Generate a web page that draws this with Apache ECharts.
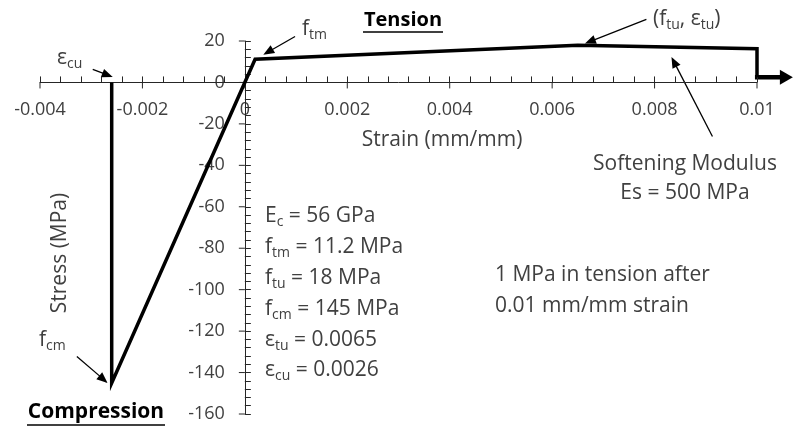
<!DOCTYPE html>
<html><head><meta charset="utf-8">
<script src="https://cdn.jsdelivr.net/npm/echarts@6/dist/echarts.min.js"></script>
<style>html,body{margin:0;padding:0;background:#fff}#c{width:794px;height:433px}</style>
</head><body><div id="c"></div>
<script>
// Stress–strain law (strain in mm/mm, stress in MPa)
const strain = [-0.0026, -0.0026, 0.0002, 0.0065, 0.01, 0.01];
const stress = [0, -145, 11.2, 18, 16.25, 2.5];
// residual tension arrow beyond 0.01 strain
const residualStrain = [0.01, 0.0107];
const residualStress = [2.5, 2.5];
const xTickValues = [-0.004, -0.002, 0, 0.002, 0.004, 0.006, 0.008, 0.01];
const xTickLabels = ['-0.004', '-0.002', '0', '0.002', '0.004', '0.006', '0.008', '0.01'];
const yTickValues = [-160, -140, -120, -100, -80, -60, -40, -20, 0, 20];
const yTickLabels = ['-160', '-140', '-120', '-100', '-80', '-60', '-40', '-20', '0', '20'];
// annotation arrows in data coordinates (tail -> head)
const annotationArrows = [
  [[-0.00297, 6.3], [-0.00258, 2.6]],
  [[0.00098, 22.2], [0.00036, 13.4]],
  [[0.00784, 30.4], [0.00664, 18.8]],
  [[0.00913, -26.1], [0.00833, 12.3]],
  [[-0.00328, -132.2], [-0.00268, -145.0]]
];

const FONT = '"Open Sans", sans-serif';
const TXT = '#404040';
const AX = '#262626';

const chart = echarts.init(document.getElementById('c'), null, {renderer: 'canvas'});
const option = {
  animation: false,
  backgroundColor: '#fff',
  grid: {left: 40, right: 37, top: 41, bottom: 19, containLabel: false, outerBoundsMode: 'none'},
  xAxis: {
    type: 'value', min: -0.004, max: 0.01, interval: 0.002, splitLine: {show: false},
    axisLine: {onZero: true, lineStyle: {color: AX, width: 1}},
    axisTick: {show: true, inside: true, length: 6, lineStyle: {color: AX}},
    minorTick: {show: true, splitNumber: 5, length: 6, lineStyle: {color: AX}},
    axisLabel: {show: false}
  },
  yAxis: {
    type: 'value', min: -160, max: 20, interval: 20, splitLine: {show: false},
    axisLine: {onZero: true, lineStyle: {color: AX, width: 1}},
    axisTick: {show: true, inside: true, length: 6, lineStyle: {color: AX}},
    minorTick: {show: true, splitNumber: 5, length: 6, lineStyle: {color: AX}},
    axisLabel: {show: false}
  },
  series: [{
    type: 'line',
    data: strain.map((s, i) => [s, stress[i]]),
    showSymbol: false,
    symbol: 'none',
    clip: false,
    lineStyle: {color: '#000', width: 3.5, join: 'miter'}
  }]
};
chart.setOption(option);

function px(p) { return chart.convertToPixel({seriesIndex: 0}, p); }
const g = [];
// outer halves of the crossing major ticks + tick labels next to the zero-crossing axes
xTickValues.forEach((v, i) => { const p = px([v, 0]);
  g.push({type: 'line', silent: true, shape: {x1: p[0], y1: p[1], x2: p[0], y2: p[1] + 6}, style: {stroke: AX, lineWidth: 1}});
  g.push({type: 'text', silent: true, x: p[0], y: p[1] + 27, style: {text: xTickLabels[i], fill: TXT, font: '18px ' + FONT, textAlign: 'center', textVerticalAlign: 'middle'}});
});
yTickValues.forEach((v, i) => { const p = px([0, v]);
  g.push({type: 'line', silent: true, shape: {x1: p[0], y1: p[1], x2: p[0] - 6, y2: p[1]}, style: {stroke: AX, lineWidth: 1}});
  g.push({type: 'text', silent: true, x: p[0] - 20, y: p[1], style: {text: yTickLabels[i], fill: TXT, font: '18px ' + FONT, textAlign: 'right', textVerticalAlign: 'middle'}});
});

function arrow(from, to, width, headLen, headW) {
  const a = px(from), b = px(to);
  const dx = b[0] - a[0], dy = b[1] - a[1], L = Math.hypot(dx, dy), ux = dx / L, uy = dy / L;
  const base = [b[0] - ux * headLen, b[1] - uy * headLen];
  g.push({type: 'line', silent: true, shape: {x1: a[0], y1: a[1], x2: base[0] + ux, y2: base[1] + uy},
    style: {stroke: '#000', lineWidth: width}});
  g.push({type: 'polygon', silent: true, shape: {points: [b,
      [base[0] - uy * headW / 2, base[1] + ux * headW / 2],
      [base[0] + uy * headW / 2, base[1] - ux * headW / 2]]},
    style: {fill: '#000'}});
}
annotationArrows.forEach(a => arrow(a[0], a[1], 1.3, 11, 9));
arrow([residualStrain[0] - 0.00004, residualStress[0]], [residualStrain[1], residualStress[1]], 4.5, 13, 15);

const rich = {
  a: {fontFamily: FONT, fontSize: 21, lineHeight: 26, color: TXT},
  s: {fontFamily: FONT, fontSize: 14, lineHeight: 9, verticalAlign: 'bottom', color: TXT}
};
function txt(text, x, y, opts) {
  opts = opts || {};
  g.push({type: 'text', silent: true, x: x, y: y,
    style: {text: text, rich: rich, fill: TXT, font: '21px ' + FONT,
      textAlign: opts.align || 'left', textVerticalAlign: 'middle'}});
}
function underline(x1, x2, y) {
  g.push({type: 'line', silent: true, shape: {x1: x1, y1: y, x2: x2, y2: y}, style: {stroke: '#000', lineWidth: 1.3}});
}
// labels
txt('{a|ε}{s|cu}', 57, 58);
txt('{a|f}{s|tm}', 302, 29);
g.push({type: 'text', silent: true, x: 403, y: 20, style: {text: 'Tension', fill: '#000', font: 'bold 20px ' + FONT, textAlign: 'center', textVerticalAlign: 'middle'}});
underline(363, 443, 32);
txt('{a|(f}{s|tu}{a|, ε}{s|tu}{a|)}', 653, 19);
txt('{a|Softening Modulus}', 685, 164, {align: 'center'});
txt('{a|Es = 500 MPa}', 685, 193, {align: 'center'});
txt('{a|Strain (mm/mm)}', 442, 140, {align: 'center'});
g.push({type: 'text', silent: true, x: 60, y: 253, rotation: Math.PI / 2, style: {text: 'Stress (MPa)', fill: TXT, font: '21px ' + FONT, textAlign: 'center', textVerticalAlign: 'middle'}});
txt('{a|f}{s|cm}', 39, 340);
g.push({type: 'text', silent: true, x: 96, y: 412, style: {text: 'Compression', fill: '#000', font: 'bold 21px ' + FONT, textAlign: 'center', textVerticalAlign: 'middle'}});
underline(27, 165, 425);
const blockY = [216, 247, 278, 309, 340, 370];
const block = ['{a|E}{s|c}{a| = 56 GPa}', '{a|f}{s|tm}{a| = 11.2 MPa}', '{a|f}{s|tu}{a| = 18 MPa}',
  '{a|f}{s|cm}{a| = 145 MPa}', '{a|ε}{s|tu}{a| = 0.0065}', '{a|ε}{s|cu}{a| = 0.0026}'];
block.forEach((t, i) => txt(t, 265, blockY[i]));
txt('{a|1 MPa in tension after}', 495, 275);
txt('{a|0.01 mm/mm strain}', 495, 306);

chart.setOption({graphic: g});
</script>
</body></html>
